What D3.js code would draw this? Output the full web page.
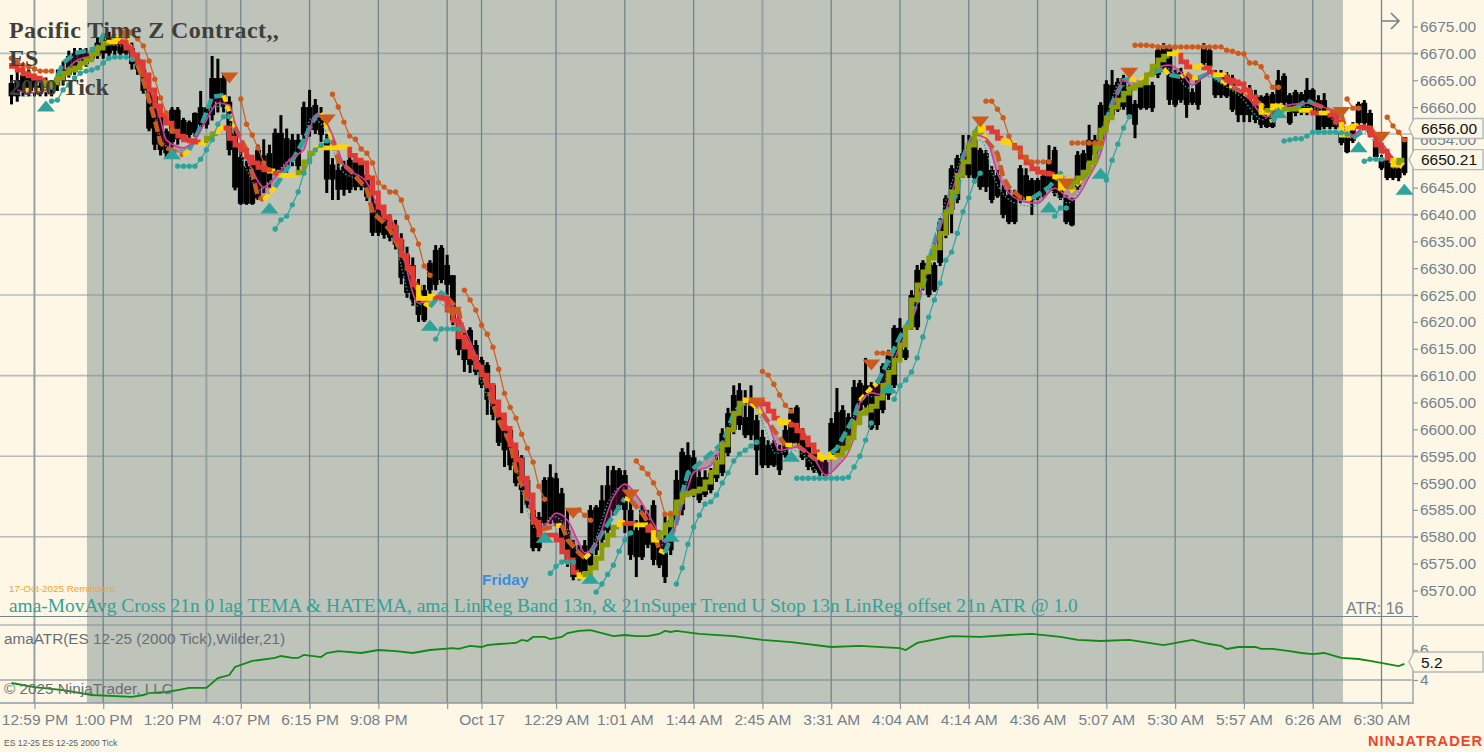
<!DOCTYPE html>
<html>
<head>
<meta charset="utf-8">
<script src="https://cdn.jsdelivr.net/npm/d3@7"></script>
<style>
  html, body { margin: 0; padding: 0; background: #fef7e6; overflow: hidden; }
  svg { display: block; }
</style>
</head>
<body>
<svg id="chart"></svg>
<script>
// candles, one value per bar
const highs = [
  6666,6667,6667.5,6667,6666,6665.5,6665.5,6665,6667,6668.5,6670.5,6671,
  6671,6671,6670.5,6673,6673.5,6674,6673.5,6673,6672.5,6672,6670,6668,
  6664,6662.5,6659,6656,6660,6660,6658,6657.5,6659,6663,6660,6669.5,
  6669,6666,6662,6656,6652,6650,6651,6653,6654,6653,6656,6658.5,
  6656,6655,6655,6661,6663.2,6661.5,6660,6655,6650.5,6650,6650,6651,
  6651,6650.5,6648.5,6644,6643,6641,6640,6639,6636.5,6634,6632,6628,
  6626.9,6631.5,6634.3,6634.3,6632.5,6628.7,6621.3,6618.5,6619,6616.6,6613.5,6612.5,
  6608.6,6603.6,6601.7,6600.4,6596.5,6595.2,6590.9,6585.9,6584.6,6591.1,6593.5,6591.9,
  6589.1,6585,6579.4,6578.5,6579.4,6585.9,6585.9,6589.6,6593.2,6593.2,6592.8,6592.4,
  6587.8,6583.1,6585.9,6585,6586.8,6581.2,6584,6584.6,6592.4,6596.5,6597.6,6596.1,
  6592.4,6592.4,6592.8,6595.2,6600.2,6604,6608.2,6608.6,6607.3,6608.2,6602.7,6599.9,
  6598,6598,6597.1,6600.8,6604,6604.5,6600.2,6598.4,6596.5,6595.6,6594.7,6602.1,
  6607.7,6604.5,6603,6609.2,6609.2,6613.3,6608.8,6609.2,6612.3,6614.8,6619.4,6620.7,
  6615.7,6625.9,6630.6,6631.5,6631.5,6631.1,6639.3,6643.6,6649.2,6651.1,6654.8,6654.8,
  6654.6,6652.4,6652,6649,6648.3,6645.5,6644.6,6644.6,6649.2,6648.6,6646.8,6646.8,
  6647.9,6652.9,6652.6,6647.3,6643.6,6643.1,6651.8,6652,6656.7,6654.8,6660.9,6665,
  6666.9,6665.4,6666,6664.1,6661.3,6664.7,6664.7,6664.7,6671.6,6671.9,6671.6,6666.9,
  6667.3,6666,6663.5,6665.4,6671.9,6671,6666.9,6666.9,6666.5,6666,6663.5,6664.1,
  6664.1,6663.2,6662.2,6662.6,6662.8,6666.9,6666.3,6662.6,6663.2,6662.8,6665.4,6663.5,
  6662.2,6662.6,6659.5,6659.1,6655.7,6655.7,6657.2,6661,6661.3,6659.5,6654.2,6651.1,
  6650.5,6650.1,6649.2,6654.4
];
const tops = [
  6664.5,6665,6666,6665.5,6665,6664,6664,6664,6665.5,6667,6669.5,6670,
  6670,6670,6669.5,6672,6672.5,6673,6672.5,6672,6671.5,6671,6669,6667,
  6663.5,6662,6658.5,6655.5,6659.5,6659.5,6657.6,6657.2,6658.9,6660,6659.9,6665.4,
  6665.4,6665.4,6661,6655.2,6650.7,6649,6650,6652,6651,6651.4,6655.2,6655.2,
  6654.2,6653.9,6653.9,6660,6660,6660.4,6658.5,6653.9,6649.3,6648.3,6648.9,6650.2,
  6649.8,6649.3,6647.4,6642.1,6641.8,6640,6639,6638,6635.3,6632.5,6630.6,6626.9,
  6625.9,6631,6633.4,6633.8,6630.6,6628.7,6620.3,6617.6,6618.5,6615.7,6612.9,6612,
  6608.3,6602.7,6600.8,6599.9,6596.1,6594.8,6590.6,6585,6583.7,6590.6,6591.1,6590.9,
  6588.1,6581.2,6578.4,6577.5,6578.4,6585,6585.5,6586.8,6589.6,6592.4,6592.4,6591.5,
  6585,6581.2,6585,6583.1,6585.9,6579.4,6579.4,6583.1,6590.6,6595.8,6595.2,6594.8,
  6591.1,6591.1,6591.9,6593.7,6599.3,6603,6606.4,6607.3,6602.3,6605.1,6601.7,6598.6,
  6597.1,6597.4,6596.1,6599.9,6603,6604.1,6599.3,6597.4,6595.6,6594.7,6593.9,6601.2,
  6603.2,6603.6,6602.3,6607.9,6608.6,6608.2,6608.2,6608.4,6611.8,6613.8,6618.9,6618.9,
  6614.8,6625,6629.7,6631,6631,6630.6,6638.6,6643,6648.6,6650.5,6651.4,6652.9,
  6653.9,6652,6651.4,6648.3,6647.3,6644.6,6643.6,6643.6,6648.6,6647.3,6646.4,6646.4,
  6647.2,6650.1,6652,6646.4,6643.1,6642.7,6651.1,6651.4,6653.9,6653.9,6660.4,6664.3,
  6664.1,6664.7,6665.4,6663.5,6660.6,6664.1,6664.1,6664.1,6670.6,6671.4,6671,6666.3,
  6666.5,6665.4,6662.8,6665,6671.4,6670.6,6666.3,6666.3,6666,6665.4,6662.8,6662.8,
  6663.2,6662.2,6661.9,6662.1,6662.4,6665,6665.8,6662.2,6662.8,6662.4,6663.2,6663.2,
  6661.3,6661.3,6658.9,6658.5,6655.2,6655.2,6656.7,6660.6,6660.8,6658.9,6653.7,6650.5,
  6650.1,6649.6,6648.6,6654.4
];
const bottoms = [
  6662,6662,6663,6663,6663,6662.5,6663,6663,6664,6665,6666,6666.5,
  6668,6668,6669,6669.5,6670,6670,6670.5,6670,6670,6668,6667,6663,
  6656,6653,6652,6651.4,6653.5,6654,6654.2,6654.8,6655.2,6656.7,6656.7,6658.5,
  6661,6660,6652,6645,6642,6642,6642,6643,6645,6646,6648.3,6648.3,
  6648.9,6650,6649,6654.8,6655.7,6655.7,6654.8,6646.5,6646.5,6644.6,6644.6,6644.6,
  6645.1,6645.1,6643.3,6636.6,6636.6,6636.2,6635.7,6634.4,6628.2,6625.4,6624.1,6621.3,
  6620.3,6625.9,6626.9,6627.8,6626.9,6620.3,6614.8,6612.9,6612,6610.7,6608.3,6605.5,
  6602.7,6597.5,6596.1,6593.3,6590,6588.7,6585.9,6577.9,6577.9,6582.6,6583.1,6582.6,
  6579.4,6575.1,6572.5,6572.5,6573.4,6574.7,6577.5,6579.4,6581.2,6585,6585.9,6585,
  6576.6,6576.2,6576.2,6578.5,6575.7,6574.7,6572.5,6577.5,6583.1,6585,6588.7,6588.1,
  6586.8,6587.8,6588.7,6590.9,6591.9,6595.6,6599.9,6600.8,6598.9,6598.9,6596.1,6593.3,
  6593.3,6593.3,6592.4,6595.2,6597.4,6597.4,6594.7,6593,6592.4,6591.9,6591.3,6594.7,
  6595.6,6596.1,6598,6601.2,6603.6,6604.5,6600.2,6600.8,6603.6,6606.4,6608.2,6613.3,
  6613.3,6619,6619,6626.5,6625,6625.9,6631,6636.2,6640.8,6642.7,6647.3,6647.3,
  6646.8,6645.1,6645.1,6642.7,6643.4,6639.9,6638.6,6638.6,6642.7,6643.2,6642.7,6643.1,
  6643.6,6644.9,6644,6643.1,6638.6,6638,6645.1,6648.3,6649.6,6651.1,6653.9,6657.2,
  6658.5,6659.5,6660,6658.5,6656.7,6659.8,6659.8,6659.8,6666,6666.9,6661.3,6660.4,
  6661.3,6660.4,6660.8,6660.4,6668.2,6667.5,6662.2,6662.2,6662,6659.5,6658.5,6658.5,
  6658.5,6657.6,6656.7,6656.3,6656.3,6660.8,6660.8,6657,6658.9,6658.9,6658.9,6659.5,
  6655.7,6656.3,6656.3,6656.3,6653.3,6651.6,6653.7,6657,6657,6655.2,6650.7,6648.6,
  6646.8,6646.8,6646.8,6647.7
];
const lows = [
  6660.5,6661,6662,6662,6662,6662,6662,6662,6663,6664,6665.5,6666,
  6667,6667.5,6668.5,6669,6669,6669,6669.5,6669,6669,6667,6666,6662.5,
  6655.5,6652,6651,6650.5,6652.5,6653,6653.5,6654,6654.5,6656,6656,6657.5,
  6659,6659,6651,6644.5,6641.8,6641.8,6641.8,6642.7,6644,6645,6647.5,6648,
  6647,6649,6648,6654,6654.5,6655,6653.5,6644,6642.7,6642.7,6643.5,6644,
  6644.5,6644.5,6642.5,6636,6636,6635.5,6635,6633.5,6627,6624.5,6623,6620,
  6620,6625,6625.9,6627.2,6625,6619.4,6613.8,6610.7,6610.5,6610.1,6607.7,6602.7,
  6601.7,6596.9,6593,6592.4,6589.4,6584.4,6585.3,6577.3,6577.3,6582,6582.4,6582,
  6578.8,6574.4,6571.9,6571.9,6572.9,6573.8,6576.6,6578.5,6580.3,6584,6585,6580.7,
  6575.7,6572.5,6575.7,6577.9,6574.7,6574.2,6571.4,6576.6,6582.2,6584,6587.8,6587.4,
  6586.3,6587.4,6588.1,6590.2,6591.3,6595,6599.1,6599.9,6598.4,6598,6591.5,6592.8,
  6592.8,6593,6591.5,6594.7,6596.9,6596.9,6594.3,6592.4,6591.9,6591.3,6590.9,6594.3,
  6595,6595.6,6597.4,6600.6,6600.8,6604,6599.9,6599.9,6603,6605.5,6607.7,6612.9,
  6612.9,6618.5,6618.5,6625.9,6624.6,6625.6,6630.4,6635.6,6636.5,6642.1,6646.8,6646.8,
  6646.4,6644.6,6644.2,6642.1,6643.1,6639.3,6638.2,6638.2,6642.1,6642.7,6639.9,6642.7,
  6643.2,6644.6,6643.4,6642.7,6638.2,6637.8,6644.6,6647.9,6649.2,6650.5,6653.3,6656.7,
  6658,6659.1,6659.5,6658,6654.2,6659.5,6659.5,6659.1,6665.4,6666.5,6660.4,6660,
  6660.8,6658,6660.4,6659.5,6667.8,6666.9,6661.7,6661.7,6661.7,6659.1,6657.2,6657.2,
  6657.2,6657,6656.1,6656.1,6656.1,6660.2,6660.2,6656.7,6658.3,6658.5,6658.5,6659.1,
  6655.2,6655.9,6655.9,6655.9,6652.9,6651.4,6653.3,6656.7,6656.7,6654.8,6650.3,6648.3,
  6646.4,6646.4,6646.2,6647.3
];

// HATEMA step line, one value per bar, with [trend, last bar of the run]
const stepValues = [
  6668.2,6667.6,6666.9,6666.2,6665.8,6665.4,6665,6664.1,6664.5,6665.4,6666.3,6666.9,
  6667.3,6668.2,6668.8,6669.9,6671,6671.9,6672.1,6672.3,6672.1,6671,6669.7,6668.4,
  6666,6663.2,6660.2,6658.5,6657,6655.5,6654.6,6653.9,6653.7,6653.5,6653.3,6654.2,
  6655,6656.1,6656.1,6654.2,6652.9,6652,6650.7,6649.6,6648.8,6648.3,6648.1,6647.7,
  6647.3,6647.3,6647.3,6647.9,6649.8,6651.4,6652.4,6652.4,6652.4,6652.4,6652.6,6652.6,
  6651,6650.1,6649.6,6646.8,6644,6641.4,6639.5,6637.7,6635.2,6632.4,6630,6626.9,
  6624.4,6624.4,6624.8,6624.6,6624.4,6622.2,6620.3,6617.2,6615.3,6613.5,6611.6,6610.1,
  6608.2,6605.1,6602.7,6600.2,6597.1,6594.3,6590.9,6587.8,6582.7,6580.3,6580.3,6580.3,
  6579.4,6577.2,6575.7,6573.4,6572.5,6573.2,6574.2,6576,6578.5,6580.3,6581.8,6582.7,
  6582.5,6582.5,6582.2,6582.2,6581.2,6579.4,6580.7,6582.2,6584.4,6586.5,6587.8,6588.1,
  6588.5,6588.9,6590.2,6592,6593.9,6597.1,6599.9,6603,6604.9,6605.5,6605.3,6605.1,
  6604.7,6603.4,6602.1,6601.2,6601.4,6600.8,6599.7,6598.4,6597.1,6595.8,6594.8,6594.8,
  6594.8,6595.2,6596.5,6598.4,6601.2,6603,6603.6,6604.3,6605.8,6608.2,6610.6,6612.9,
  6615.7,6619,6624.1,6626.9,6629.3,6631.9,6633.8,6636.5,6640.5,6644.2,6647.3,6649.8,
  6652.9,6655.2,6656.1,6656.1,6655.4,6654.2,6653.5,6653.3,6652.4,6650.7,6649.6,6648.5,
  6647.9,6647.7,6647.5,6647,6644.9,6645.1,6646,6646.8,6647.9,6649.6,6652.7,6655.7,
  6658,6660,6661.3,6662.6,6663.5,6664.1,6664.5,6666,6667.6,6668.8,6669.5,6669.9,
  6670.1,6668.4,6667.5,6667.5,6667.5,6667.3,6666.5,6666,6666,6665,6664.7,6664.3,
  6663.2,6661.9,6660.7,6659,6659.4,6660.2,6660,6659.6,6659.6,6659.6,6659.4,6659.4,
  6658.9,6658.9,6658.9,6658.5,6657.2,6654.8,6656.1,6656.5,6656.3,6656.1,6654.8,6652.9,
  6651.8,6650.5,6649.2,6650.1
];
const stepRuns = [
  ["down",6],["up",17],["flat",19],["down",33],["flat",34],["up",36],["flat",37],["down",45],
  ["flat",46],["down",47],["flat",50],["up",53],["flat",59],["down",71],["flat",74],["down",99],
  ["flat",100],["up",106],["flat",107],["down",109],["flat",111],["down",112],["flat",113],["up",128],
  ["flat",129],["down",134],["flat",136],["down",141],["flat",144],["up",169],["flat",170],["down",173],
  ["flat",175],["down",182],["flat",184],["up",202],["flat",204],["down",206],["flat",208],["down",210],
  ["flat",212],["down",218],["flat",219],["up",220],["flat",222],["up",225],["flat",227],["down",228],
  ["flat",230],["down",232],["flat",235],["down",241],["flat",242],["up",243]
];

// TEMA, read at its turning points
const temaBars = [
  2,7,9,11,15,16,18,20,21,23,25,26,27,30,31,33,35,37,39,41,42,43,44,46,49,51,53,54,56,57,59,61,62,63,65,66,69,71,72,73,75,76,78,79,
  82,85,87,88,91,92,95,96,97,99,100,101,103,106,107,108,110,112,113,114,116,117,118,120,124,126,128,129,131,133,135,137,140,141,143,
  144,147,148,150,151,155,157,159,160,162,165,166,168,169,170,172,173,174,176,177,178,181,183,184,185,187,189,190,192,194,195,197,
  199,201,202,204,205,206,207,209,211,213,215,217,219,220,221,222,224,226,227,230,232,233,234,236,237,239,241,242,243
];
const temaValues = [
  6663.2,6663.2,6668.2,6670,6671,6673.4,6672.9,6673,6670.6,6665,6657.6,6653.3,6652.4,6651,6652,6656.3,6661.9,6662.2,6656.3,6652,6647.7,6643.2,6642.7,6645.1,6650.1,6653.9,6658.2,6658.9,6653.9,6650.1,6648.3,6645.9,6644.6,6640.3,6638.4,6637.1,6631,6625.4,6623.5,6622.8,6625.4,6624.6,6622.2,6617.2,
  6611,6601.7,6597.4,6592.4,6584.4,6581.2,6582,6582.2,6579.4,6577,6576,6577,6580.7,6585.5,6587.2,6586.8,6584.4,6581.2,6577.5,6577,6582.6,6588.1,6591.9,6593.7,6597.4,6603,6605.4,6604.9,6603,6599.9,6597.1,6597.1,6594.6,6594.3,6595.6,
  6596.5,6602.3,6605.4,6607.7,6608.6,6617.2,6620.9,6626.5,6631,6638.4,6644,6650.7,6655.2,6656.7,6653.9,6651.4,6647,6645.1,6643.2,6643,6643,6645.1,6647.7,6647,6644.6,6647,6649.6,6654.4,6660.7,6665,6665.2,6665,
  6666.3,6667.1,6666,6665.6,6666.3,6665.4,6665.4,6666.3,6665,6663.7,6662.6,6661.3,6659.5,6657.2,6659,6659.4,6659.8,6661.3,6660.7,6659.4,6658.5,6655.2,6654.2,6655.7,6656.3,6652.9,6650.1,6648.8,6650
];
const temaTrend = [
  "flat","up","up","up","up","up","flat","flat","down","down","down","down","down","flat","up","up","up","flat","down","down","down","down","flat","up","up","up","up","flat","down","down","down","down","down","down","down","down","down","down","flat","up","up","down","down","down",
  "down","down","down","down","down","down","flat","down","down","down","flat","up","up","up","flat","down","down","down","flat","up","up","up","up","up","up","up","up","flat","down","down","flat","down","down","flat","up",
  "up","up","flat","flat","up","up","up","up","up","up","up","up","up","flat","down","down","down","down","down","flat","up","up","up","flat","flat","up","up","up","up","up","flat","flat",
  "up","flat","up","flat","down","flat","up","up","flat","down","flat","down","flat","up","up","flat","up","up","down","down","down","down","up","up","down","down","down","flat","up"
];

// HMA, thin magenta line
const hmaBars = [
  1,3,6,9,11,15,17,20,22,24,26,27,30,32,34,36,38,39,42,44,46,49,51,52,53,55,57,58,62,64,67,68,71,74,77,78,84,88,91,92,93,95,97,99,100,102,105,107,109,112,114,115,
  118,119,122,125,128,130,132,134,137,140,142,144,147,148,150,152,154,157,162,166,168,170,172,174,177,179,182,185,188,190,192,194,196,199,202,204,206,209,212,215,219,221,226,230,233,234,236,239,242
];
const hmaValues = [
  6663.2,6662.6,6663.2,6665.6,6668.4,6670.1,6672.1,6671.9,6669.3,6663.7,6657.6,6653.9,6652.4,6653.9,6657.6,6660.7,6660.4,6657,6648.3,6645.1,6647,6650.7,6652,6655.7,6658.5,6657,6652,6649.2,6645.9,6641.4,6637.7,6633.9,6623.5,6624.6,6622.7,6620.9,6606,6596.1,6584.4,6582.2,6582.2,6584.4,6583.1,6578.8,6577,6578.8,6587.4,6589.8,6587.8,6582.5,6579,6579.9,
  6589.2,6592,6593.3,6598.9,6605.1,6604.9,6601.2,6596.1,6596.7,6594.6,6591.5,6593,6598.6,6604.9,6606.8,6606.4,6612.9,6620.3,6637.5,6650.1,6654.8,6654.2,6647.7,6644,6642.3,6642.1,6644.9,6642.7,6647,6651.4,6659.4,6665,6663.5,6666.9,6667.8,6666.5,6664.1,6666.3,6664.7,6662.6,6658.2,6660,6660.7,6659.4,6655.7,6654.8,6656.3,6653.3,6648.8
];

// super trend stops: first bar of each run, then its values
const stopStarts = [0,21,40,56,79,98,109,131,151,170,185,196,233,240];
const stopRuns = [
  [6669.1,6668.4,6667.8,6667.5,6667.1,6666.7,6666.7,6666.7],
  [6673.8,6672.7,6671.4,6668.6,6665.2,6661.7,6658.9,6655.7],
  [6661.5,6656.8,6654.8,6652.4,6649.6,6648.3],
  [6662.4,6660,6657.2,6654.6,6654,6652.2,6651.4,6649.6,6645.9,6645.1,6644.2,6644.2,6642.7,6639.5,6637.1,6634.5,6630.4,6628.7],
  [6625.9,6624.1,6622.2,6619.4,6617.7,6615.3,6611.2,6606.7,6604.1,6602.1,6599.1,6596.5,6593.9,6589.4,6587],
  [6584.4,6585,6584,6583.1],
  [6594.1,6592.8,6591.7,6590,6588.1,6584.2,6584.2],
  [6610.8,6610.1,6608.4,6606.4,6604.5,6603.4],
  [6614.2,6614.2,6614.2],
  [6661.1,6661.1,6659.6,6658,6654.6,6652.6,6651.6,6650.5,6649.8,6649.8,6649.8,6649.8],
  [6653.3,6653.3,6653.3,6653.3,6653.3,6653.3],
  [6671.5,6671.5,6671.5,6671.4,6671.2,6671.2,6671.2,6671.2,6671.2,6671.2,6671.2,6671.2,6671.2,6671.2,6671.2,6671.2,6670.6,6670.4,6670,6669.9,6668.2,6668.2,6667.5,6665.6,6663.7,6663.7],
  [6661.5,6659.8,6659.8],
  [6658.1,6656.5,6655.3,6653.9]
];
const supportStarts = [7,29,46,74,94,102,116,137,154,182,191,222,236];
const supportRuns = [
  [6661.1,6661.3,6663.2,6664.1,6665.4,6666.3,6666.7,6666.9,6667.3,6668.2,6669.1,6669.3,6669.3,6669.3,6668.9],
  [6649,6649,6649,6649,6650.3,6652,6653.9,6656.8,6658.2,6658.2],
  [6637.3,6639,6639.7,6641.8,6644.2,6647.7,6650.1,6652,6652.9,6653.7],
  [6616.8,6618.7,6618.7,6618.7,6618.7],
  [6573.2,6574.5,6575.3,6575.3,6575.3],
  [6569.7,6571.2,6573,6574.7,6577.3,6579.4,6580.7],
  [6571.2,6574.2,6578.6,6581.8,6584,6586.1,6586.5,6587.8,6590,6591.9,6594.1,6595.4,6596.1,6596.9,6597.6],
  [6590.9,6590.9,6590.9,6590.9,6590.9,6590.9,6590.9,6590.9,6590.9,6591.1,6593,6595,6598,6601.2],
  [6605.6,6608.1,6609.2,6610.7,6613.3,6617.2,6620.9,6624.1,6627.2,6631.5,6633,6636.5,6640.5,6643.1,6646.2,6647.7],
  [6639.7,6641.2,6641.2],
  [6646.4,6650.1,6653.1,6656.1,6658.2],
  [6653.7,6653.9,6654.1,6654.1,6654.6,6655.3,6655.3,6655.3,6655.3,6655.3,6655.2,6655],
  [6649.9,6650.3,6650.3,6650.3]
];

// cross markers
const sellBars = [20,38,55,77,98,108,130,150,169,184,195,232,239];
const sellPrices = [6673.4,6665.4,6657.6,6621.8,6584.4,6587.8,6604.9,6612,6657.2,6645.7,6666.3,6659,6654.4];
const buyBars = [6,28,45,73,93,101,115,136,153,181,190,221,235,243];
const buyPrices = [6660.2,6651.3,6641.2,6619.4,6579.9,6572.3,6580.1,6595,6607.7,6641.4,6647.7,6659,6652.6,6644.7];

// ATR panel
const atrBars = [
  0,4,9,14,21,23,24,27,29,31,34,36,38,39,42,46,47,49,50,51,54,55,57,61,64,67,70,73,77,78,80,82,83,85,88,89,90,91,93,94,96,97,99,101,103,105,107,109,111,113,114,115,116,119,120,
  126,131,136,143,148,155,156,158,164,169,174,178,183,186,190,195,201,206,208,209,211,212,214,217,218,220,223,225,227,229,232,235,237,242,243
];
const atrValues = [
  3.8,3.53,3.33,3,2.87,3,3.13,3.2,3.33,3.47,3.47,4.13,4.33,4.87,5.27,5.47,5.6,5.47,5.47,5.67,5.53,5.8,5.93,5.8,6,5.93,5.8,6,6.13,6.07,6.27,6.2,6.33,6.4,6.47,6.67,6.6,6.87,6.87,6.73,6.87,7.13,7.27,7.33,7.13,6.93,7,6.93,6.93,7.07,7.27,7.2,7.27,7.13,7.07,
  6.93,6.67,6.53,6.2,6.27,6.13,6,6.47,6.93,6.87,7,7.07,6.87,6.67,6.6,6.67,6.33,6.67,6.47,6.4,6.27,6.07,6.2,6.2,6.07,6.07,5.93,5.8,5.73,5.8,5.47,5.4,5.27,4.93,5.07
];

// axes
const priceTicks = [6675,6670,6665,6660,6655,6650,6645,6640,6635,6630,6625,6620,6615,6610,6605,6600,6595,6590,6585,6580,6575,6570];
const priceGrid = [6670,6655,6640,6625,6610,6595,6580];
const atrTicks = [6,4];
const timeBars = [4,16,28,40,52,64,76,82,95,107,119,131,143,155,167,179,191,203,215,227,239];
const timeLabels = ["12:59 PM","1:00 PM","1:20 PM","4:07 PM","6:15 PM","9:08 PM","","Oct 17","12:29 AM","1:01 AM","1:44 AM","2:45 AM","3:31 AM","4:04 AM","4:14 AM","4:36 AM","5:07 AM","5:30 AM","5:57 AM","6:26 AM","6:30 AM"];
const lightGridBars = [4,131];

const W = 1484, H = 752;
const cream = "#fef7e6", session = "#bec4b9";
const gridCol = "#718490", axisText = "#71828f";
const stepCol = { down: "#e23a33", up: "#8b9e05", flat: "#ffd500" };
const temaCol = { down: "#cc5a1c", up: "#2ea39c", flat: "#ffd500" };
const orange = "#cf5a1e", teal = "#2ea39c";
const sans = "'Liberation Sans', Arial, sans-serif", serif = "'Liberation Serif', 'Times New Roman', serif";

const svg = d3.select("#chart").attr("width", W).attr("height", H).style("background", cream);

const x = d3.scaleLinear().domain([0, 239]).range([11.5, 1381.5]);
const y = d3.scaleLinear().domain([6570, 6675]).range([590.5, 26.5]);
const yAtr = d3.scaleLinear().domain([4, 6]).range([680, 650]);

// session shading
svg.append("rect").attr("x", 87).attr("y", 0).attr("width", 1256).attr("height", 703).attr("fill", session);

// grid
const grid = svg.append("g").attr("fill", "none");
grid.selectAll(".h").data(priceGrid).enter().append("line")
  .attr("x1", 0).attr("x2", 1418).attr("y1", d => y(d)).attr("y2", d => y(d))
  .attr("stroke", "#7d8c96").attr("stroke-opacity", 0.55).attr("stroke-width", 1.6);
grid.selectAll(".v").data(timeBars).enter().append("line")
  .attr("x1", d => x(d)).attr("x2", d => x(d)).attr("y1", 0).attr("y2", 703)
  .attr("stroke", d => lightGridBars.includes(d) ? "#94a2a6" : gridCol)
  .attr("stroke-width", d => lightGridBars.includes(d) ? 2 : 1.3);
grid.append("line").attr("x1", x(34)).attr("x2", x(34)).attr("y1", 0).attr("y2", 703)
  .attr("stroke", "#94a2a6").attr("stroke-width", 2);
grid.append("line").attr("x1", 0).attr("x2", 1418).attr("y1", 616.5).attr("y2", 616.5).attr("stroke", gridCol).attr("stroke-width", 1.2);
grid.append("line").attr("x1", 0).attr("x2", W).attr("y1", 625).attr("y2", 625).attr("stroke", gridCol).attr("stroke-opacity", 0.8).attr("stroke-width", 1);
grid.append("line").attr("x1", 0).attr("x2", 1413).attr("y1", yAtr(4)).attr("y2", yAtr(4)).attr("stroke", gridCol).attr("stroke-width", 1.2);
grid.append("line").attr("x1", 0).attr("x2", 1414).attr("y1", 703).attr("y2", 703).attr("stroke", "#8b9aa2").attr("stroke-width", 1.6);
grid.append("line").attr("x1", 1413).attr("x2", 1413).attr("y1", 0).attr("y2", 703).attr("stroke", "#b2babb").attr("stroke-width", 2);

// axes
const priceAxis = d3.axisRight(y).tickValues(priceTicks).tickFormat(d => d.toFixed(2)).tickSize(5).tickPadding(2);
const atrAxis = d3.axisRight(yAtr).tickValues(atrTicks).tickFormat(d3.format("d")).tickSize(5).tickPadding(2);
const timeAxis = d3.axisBottom(x).tickValues(timeBars).tickFormat((d, i) => timeLabels[i]).tickSize(6).tickPadding(5);
[svg.append("g").attr("transform", "translate(1413,0)").call(priceAxis),
 svg.append("g").attr("transform", "translate(1413,0)").call(atrAxis),
 svg.append("g").attr("transform", "translate(0,703)").call(timeAxis)].forEach(g => {
  g.select(".domain").remove();
  g.selectAll("line").attr("stroke", "#8b9aa2").attr("stroke-width", 1.2);
  g.selectAll("text").attr("fill", axisText).attr("font-family", sans).attr("font-size", 15.5);
});
svg.append("text").attr("x", 1420).attr("y", y(6654) + 5.5).attr("fill", axisText).attr("font-family", sans).attr("font-size", 15.5).text("6654.00");

// candles
const bars = d3.range(highs.length);
const candles = svg.append("g").attr("fill", "#000").attr("stroke", "none");
candles.selectAll(".wick").data(bars).enter().append("rect")
  .attr("x", d => x(d) - 1.5).attr("width", 3)
  .attr("y", d => y(highs[d])).attr("height", d => y(lows[d]) - y(highs[d]));
candles.selectAll(".body").data(bars).enter().append("rect")
  .attr("x", d => x(d) - 2.9).attr("width", 5.8)
  .attr("y", d => y(tops[d])).attr("height", d => Math.max(1, y(bottoms[d]) - y(tops[d])));

// cloud between TEMA and HMA
const linePts = (xs, vs) => xs.map((b, i) => [x(b), y(vs[i])]);
const temaPts = linePts(temaBars, temaValues);
const hmaPts = linePts(hmaBars, hmaValues);
svg.append("path")
  .attr("d", d3.line()(temaPts.concat(hmaPts.slice().reverse())) + "Z")
  .attr("fill", "#93205f").attr("fill-opacity", 0.3).attr("fill-rule", "evenodd");

// thin dotted band along the TEMA
svg.append("path").attr("d", d3.line().curve(d3.curveMonotoneX)(hmaPts))
  .attr("fill", "none").attr("stroke", teal).attr("stroke-width", 1.3).attr("stroke-dasharray", "1.5,2").attr("transform", "translate(-4,3)");

// TEMA dashes, one path per trend run
let runStart = 0;
temaTrend.forEach((t, i) => {
  if (i === temaTrend.length - 1 || temaTrend[i + 1] !== t) {
    svg.append("path").attr("d", d3.line()(temaPts.slice(runStart, i + 2)))
      .attr("fill", "none").attr("stroke", temaCol[t]).attr("stroke-width", 4.5)
      .attr("stroke-dasharray", t === "flat" ? "7,3" : "11,4");
    runStart = i + 1;
  }
});

// HMA
svg.append("path").attr("d", d3.line().curve(d3.curveMonotoneX)(hmaPts))
  .attr("fill", "none").attr("stroke", "#d23a98").attr("stroke-width", 1.6);

// HATEMA steps
const stepLine = d3.line().x(d => x(d)).y(d => y(stepValues[d])).curve(d3.curveStepBefore);
let stepFrom = 0;
stepRuns.forEach(([trend, last]) => {
  svg.append("path").attr("d", stepLine(d3.range(stepFrom, last + 1)))
    .attr("fill", "none").attr("stroke", stepCol[trend]).attr("stroke-width", 4.8).attr("stroke-linejoin", "miter");
  stepFrom = last;
});

// stop dots
function drawStops(starts, runs, col) {
  const g = svg.append("g");
  runs.forEach((vals, r) => {
    const pts = vals.map((v, i) => [x(starts[r] + i), y(v)]);
    g.append("path").attr("d", d3.line()(pts)).attr("fill", "none").attr("stroke", col).attr("stroke-width", 1.2);
    g.selectAll(null).data(pts).enter().append("circle")
      .attr("cx", d => d[0]).attr("cy", d => d[1]).attr("r", 2.7).attr("fill", col);
  });
}
drawStops(stopStarts, stopRuns, orange);
drawStops(supportStarts, supportRuns, teal);

// triangles
svg.selectAll(".sell").data(sellBars).enter().append("path")
  .attr("d", "M-9,-5.5L9,-5.5L0,5.5Z").attr("fill", "#cc5a1c")
  .attr("transform", (d, i) => `translate(${x(d)},${y(sellPrices[i])})`);
svg.selectAll(".buy").data(buyBars).enter().append("path")
  .attr("d", "M-9,5.5L9,5.5L0,-5.5Z").attr("fill", "#2ea39c")
  .attr("transform", (d, i) => `translate(${x(d)},${y(buyPrices[i])})`);

// ATR line
svg.append("path").attr("d", d3.line().x((b) => x(b)).y((b, i) => yAtr(atrValues[i]))(atrBars))
  .attr("fill", "none").attr("stroke", "#0f8a12").attr("stroke-width", 1.8);

// labels
const label = (txt, px, py, size, fill, family, extra) => {
  const t = svg.append("text").attr("x", px).attr("y", py).attr("font-size", size).attr("fill", fill).attr("font-family", family || sans).text(txt);
  if (extra) extra(t);
  return t;
};
label("Pacific Time Z Contract,,", 9, 38, 24, "#3f403c", serif, t => t.attr("font-weight", "bold").attr("letter-spacing", 0.42));
label("ES", 9, 66, 24, "#3f403c", serif, t => t.attr("font-weight", "bold"));
label("2000 Tick", 9, 95, 24, "#3f403c", serif, t => t.attr("font-weight", "bold"));
label("Friday", 482, 585, 15.5, "#3a8ddc", sans, t => t.attr("font-weight", "bold"));
label("17-Oct-2025 Reminders:", 9, 592, 9.9, "#f5a623");
label("ama-MovAvg Cross 21n 0 lag TEMA & HATEMA, ama LinReg Band 13n, & 21nSuper Trend U Stop 13n LinReg offset 21n ATR @ 1.0", 9, 612, 19.43, "#2ea39c", serif);
label("ATR: 16", 1346, 614, 16, axisText);
label("amaATR(ES 12-25 (2000 Tick),Wilder,21)", 4, 644, 15.3, "#667079");
label("\u00a9 2025 NinjaTrader, LLC", 4, 694, 15.3, "#667079");
label("ES 12-25 ES 12-25 2000 Tick", 4, 746, 8.6, "#555f66");
label("NINJATRADER", 1368, 746, 14.5, "#ee4529", sans, t => t.attr("font-weight", "bold").attr("textLength", 114).attr("lengthAdjust", "spacing"));

// arrow, top right
svg.append("path").attr("d", "M1382,21H1399M1391,13L1399,21L1391,29").attr("fill", "none").attr("stroke", axisText).attr("stroke-width", 1.6);

// last value tags
function tag(val, text, scale, left) {
  const c = scale(val);
  const g = svg.append("g");
  g.append("path").attr("d", `M${left - 5},${c}L${left},${c - 10}H1483V${c + 10}H${left}Z`)
    .attr("fill", cream).attr("stroke", "#b2babb").attr("stroke-width", 1.4);
  g.append("text").attr("x", left + 7).attr("y", c + 5.5).attr("font-family", sans).attr("font-size", 15.5).attr("fill", "#111").text(text);
}
tag(6656, "6656.00", y, 1414);
tag(6650.21, "6650.21", y, 1414);
tag(5.2, "5.2", yAtr, 1414);
</script>
</body>
</html>
